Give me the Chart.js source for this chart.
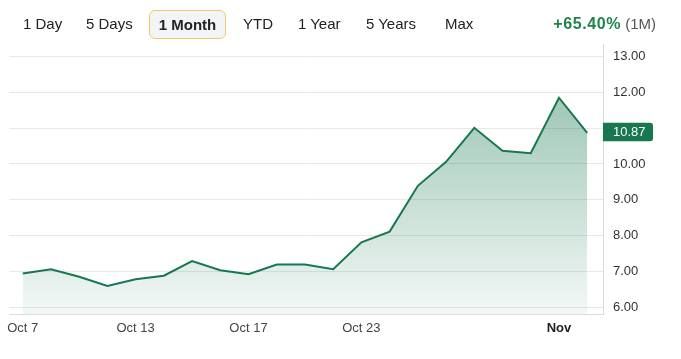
<!DOCTYPE html>
<html>
<head>
<meta charset="utf-8">
<script src="https://cdn.jsdelivr.net/npm/chart.js@4.4.0/dist/chart.umd.min.js"></script>
<style>
  body { margin: 0; background: #fff; font-family: "Liberation Sans", Arial, sans-serif; }
  #wrap { position: relative; width: 681px; height: 359px; overflow: hidden; }
  #chart { position: absolute; left: 0; top: 0; }
  .tab { position: absolute; top: 15px; font-size: 15px; color: #222; line-height: 18px; }
  .sel { position: absolute; left: 149px; top: 10px; width: 75px; height: 27px; border: 1.5px solid #f4c86a;
         border-radius: 6px; background: #f3f4f6; font-size: 15px; font-weight: bold; color: #222;
         line-height: 27px; text-align: center; }
  #chg { position: absolute; top: 15px; right: 25px; font-size: 15px; line-height: 18px; color: #555; }
  #chg b { color: #1e8449; font-size: 16px; letter-spacing: 0.6px; }
</style>
</head>
<body>
<div id="wrap">
  <canvas id="chart" width="681" height="359"></canvas>
  <div class="tab" style="left:23px">1 Day</div>
  <div class="tab" style="left:86px">5 Days</div>
  <div class="sel">1 Month</div>
  <div class="tab" style="left:243px">YTD</div>
  <div class="tab" style="left:298px">1 Year</div>
  <div class="tab" style="left:366px">5 Years</div>
  <div class="tab" style="left:445px">Max</div>
  <div id="chg"><b>+65.40%</b> (1M)</div>
</div>
<script>
// one point per trading day, Oct 7 - Nov 4
const days = ['Oct 7','Oct 8','Oct 9','Oct 10','Oct 13','Oct 14','Oct 15','Oct 16','Oct 17',
  'Oct 20','Oct 21','Oct 22','Oct 23','Oct 24','Oct 27','Oct 28','Oct 29','Oct 30','Oct 31','Nov 3','Nov 4'];
const prices = [6.94, 7.06, 6.85, 6.59, 6.78, 6.88, 7.29, 7.03, 6.92, 7.19, 7.19, 7.06,
  7.81, 8.11, 9.39, 10.06, 11.01, 10.37, 10.30, 11.85, 10.87];
const labelDays = [0, 4, 8, 12, 19];
const labelText = ['Oct 7', 'Oct 13', 'Oct 17', 'Oct 23', 'Nov'];
const yTicks = [6, 7, 8, 9, 10, 11, 12, 13];
const lastPrice = 10.87;

const green = '#17784f';

// price tag on the right axis
const priceTag = {
  id: 'priceTag',
  afterDraw(chart) {
    const c = chart.ctx;
    const y = chart.scales.y.getPixelForValue(lastPrice);
    const x = chart.chartArea.right;
    c.save();
    c.fillStyle = green;
    c.beginPath();
    c.roundRect(x, y - 10, 50, 18.5, [0, 3, 3, 0]);
    c.fill();
    c.fillStyle = '#fff';
    c.font = '13px "Liberation Sans", Arial, sans-serif';
    c.textBaseline = 'middle';
    c.fillText(lastPrice.toFixed(2), x + 10, y);
    c.restore();
  }
};

new Chart(document.getElementById('chart'), {
  type: 'line',
  data: {
    datasets: [{
      data: prices.map((p, i) => ({ x: i, y: p })),
      borderColor: green,
      borderWidth: 2,
      pointRadius: 0,
      tension: 0,
      fill: 'start',
      backgroundColor: (ctx) => {
        const area = ctx.chart.chartArea;
        if (!area) return 'rgba(23,120,79,0.2)';
        const g = ctx.chart.ctx.createLinearGradient(0, area.top, 0, area.bottom);
        g.addColorStop(0, 'rgba(23,120,79,0.50)');
        g.addColorStop(1, 'rgba(23,120,79,0.05)');
        return g;
      }
    }]
  },
  options: {
    responsive: false,
    animation: false,
    layout: { padding: { left: 9, top: 44, right: 0, bottom: 0 } },
    plugins: { legend: { display: false }, tooltip: { enabled: false } },
    scales: {
      x: {
        type: 'linear',
        min: -0.47,
        max: 20.56,
        afterBuildTicks: (s) => { s.ticks = labelDays.map(v => ({ value: v })); },
        afterFit: (s) => { s.height = 45; },
        grid: { color: 'rgba(0,0,0,0)', drawTicks: false },
        border: { display: true, color: '#dcdcdc', width: 1 },
        ticks: {
          padding: 7,
          maxRotation: 0,
          autoSkip: false,
          color: (ctx) => ctx.tick && ctx.tick.value === 19 ? '#222' : '#444',
          font: (ctx) => ({
            family: '"Liberation Sans", Arial, sans-serif',
            size: 13,
            weight: ctx.tick && ctx.tick.value === 19 ? 'bold' : 'normal'
          }),
          callback: (v) => labelText[labelDays.indexOf(v)]
        }
      },
      y: {
        position: 'right',
        min: 5.81,
        max: 13.35,
        afterBuildTicks: (s) => { s.ticks = yTicks.map(v => ({ value: v })); },
        afterFit: (s) => { s.width = 78; },
        grid: { color: '#e9e9e9', drawTicks: false },
        border: { display: true, color: '#dcdcdc', width: 1 },
        ticks: {
          padding: 10,
          color: '#333',
          font: { family: '"Liberation Sans", Arial, sans-serif', size: 13 },
          callback: (v) => v.toFixed(2)
        }
      }
    }
  },
  plugins: [priceTag]
});
</script>
</body>
</html>
